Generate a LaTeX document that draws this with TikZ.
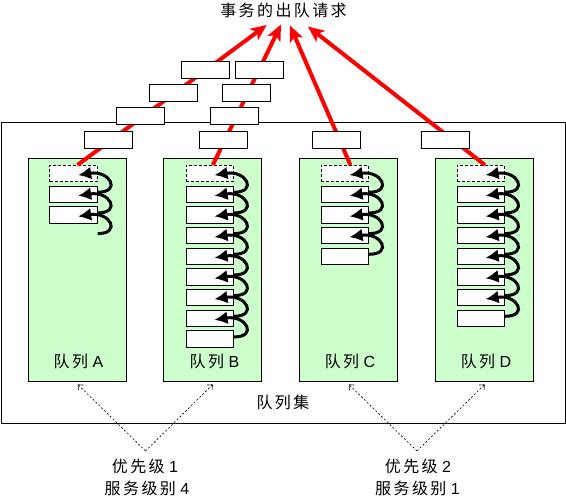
\documentclass[tikz,border=0pt]{standalone}
\usepackage{fontspec}
\setmainfont{Liberation Sans}
\newfontfamily\cjk[LetterSpace=15]{Noto Sans CJK SC}
\usetikzlibrary{arrows.meta}
\definecolor{qgreen}{RGB}{204,255,204}
\begin{document}
\begin{tikzpicture}[x=1pt,y=-1pt,
  setbox/.style={draw=black, line width=0.9pt, minimum width=564pt, minimum height=301pt, inner sep=0pt, anchor=north west},
  qbox/.style={draw=black, line width=0.9pt, fill=qgreen, minimum width=98pt, minimum height=222.7pt, inner sep=0pt, anchor=north west},
  itembox/.style={draw=black, line width=0.9pt, fill=white, minimum width=47.5pt, minimum height=16.3pt, inner sep=0pt, anchor=north west},
  ghostbox/.style={itembox, draw=none, fill=none},
  headbox/.style={itembox, dash pattern=on 3pt off 2pt},
  outbox/.style={itembox, minimum width=48pt, minimum height=16.5pt},
  redarrow/.style={draw=red, line width=4pt, -{Stealth[length=16pt,width=14pt,inset=4pt]}},
  curl/.style={draw=black, line width=3pt, -{Latex[length=13pt 0 0,width=13pt 0 0]}},
  hint/.style={draw=black, line width=0.6pt, dash pattern=on 2pt off 2pt, -{Straight Barb[length=4pt,width=7pt]}},
  txt/.style={font=\fontsize{16}{18}\selectfont, inner sep=0pt},
]
\useasboundingbox (0,0) rectangle (566,498);
% outer set
\node[setbox] (set) at (1,121.7) {};
% queues
\foreach \n/\x in {A/28.3, B/163.3, C/299.3, D/435.3}
  \node[qbox] (Q\n) at (\x,158.3) {};
% items
\foreach \n/\x/\k in {A/49.3/2, B/185.6/8, C/320.7/4, D/456.7/7} {
  \node[headbox] (\n0) at (\x,165) {};
  \foreach \i in {1,...,\k}
    \node[itembox] (\n\i) at (\x,{165+20.67*\i}) {};
}
\node[ghostbox] (A3) at (49.3,{165+20.67*3}) {};
% red dequeue arrows
\coordinate (t1) at (266.7,25);
\coordinate (t2) at (281,24.5);
\coordinate (t3) at (290,25.5);
\coordinate (t4) at (308,26.5);
\draw[redarrow] ([xshift=4pt]A0.north) -- (t1);
\draw[redarrow] ([xshift=3pt]B0.north) -- (t2);
\draw[redarrow] ([xshift=5.5pt]C0.north) -- (t3);
\draw[redarrow] ([xshift=4pt]D0.north) -- (t4);
% departed requests
\node[outbox] (o1) at (181,61) {};
\node[outbox] (o2) at (235,61) {};
\node[outbox] (o3) at (149,84) {};
\node[outbox] (o4) at (222,84) {};
\node[outbox] (o5) at (116,107) {};
\node[outbox] (o6) at (210,107) {};
\node[outbox] (o7) at (84,131) {};
\node[outbox] (o8) at (199,131) {};
\node[outbox] (o9) at (312,131) {};
\node[outbox] (o10) at (421,131) {};
% curled shift arrows
\foreach \n/\m in {A/3, B/8, C/4, D/7} {
  \foreach \j [evaluate=\j as \i using {int(\j-1)}] in {1,...,\m}
    \draw[curl] ([yshift=2pt]\n\j.east) .. controls +(24,0) and +(32,-5) .. ([xshift=-19.5pt,yshift=-1.5pt]\n\i.east);
}
% texts
\node[txt] (title) at (283.5,10) {\cjk 事务的出队请求};
\node[txt] (LA) at (78.5,361) {{\cjk 队列} A};
\node[txt] (LB) at (214.5,361) {{\cjk 队列} B};
\node[txt] (LC) at (350,361) {{\cjk 队列} C};
\node[txt] (LD) at (486,361) {{\cjk 队列} D};
\node[txt] (setlabel) at (283,402) {\cjk 队列集};
\node[txt] (p1a) at (145,466) {{\cjk 优先级} 1};
\node[txt] (p1b) at (147,488) {{\cjk 服务级别} 4};
\node[txt] (p2a) at (418,466) {{\cjk 优先级} 2};
\node[txt] (p2b) at (417.5,488) {{\cjk 服务级别} 1};
% hint arrows
\coordinate (h1) at (145.5,451);
\coordinate (h2) at (417,451);
\draw[hint] (h1) -- ([yshift=-2.5pt]QA.south);
\draw[hint] (h1) -- ([yshift=-2.5pt]QB.south);
\draw[hint] (h2) -- ([yshift=-2.5pt]QC.south);
\draw[hint] (h2) -- ([yshift=-2.5pt]QD.south);
\end{tikzpicture}
\end{document}
